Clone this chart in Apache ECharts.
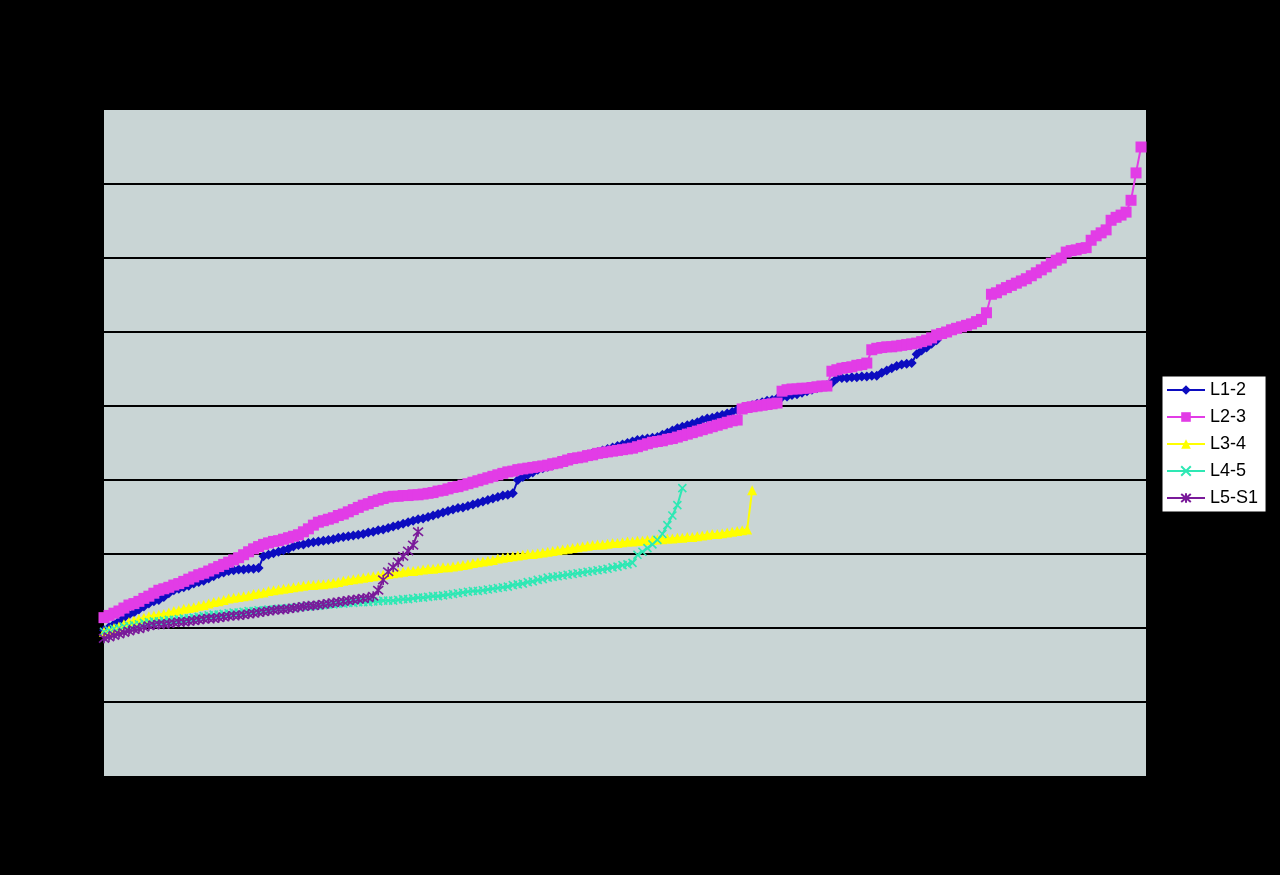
<!DOCTYPE html>
<html>
<head>
<meta charset="utf-8">
<script src="https://cdn.jsdelivr.net/npm/echarts@6/dist/echarts.min.js"></script>
<style>
html,body{margin:0;padding:0;background:#000;}
#chart{width:1280px;height:875px;}
</style>
</head>
<body>
<div id="chart"></div>
<script>
// Sorted values per disc level (rank order)
const seriesNames = ['L1-2', 'L2-3', 'L3-4', 'L4-5', 'L5-S1'];

const L1_2 = [
1.97,2.01,2.05,2.09,2.14,2.18,2.21,2.25,2.29,2.33,
2.36,2.38,2.42,2.47,2.51,2.53,2.55,2.57,2.60,2.62,
2.64,2.67,2.70,2.73,2.75,2.77,2.78,2.79,2.79,2.80,
2.80,2.81,2.97,2.99,3.01,3.03,3.05,3.07,3.10,3.12,
3.13,3.15,3.16,3.17,3.18,3.19,3.20,3.22,3.23,3.24,
3.25,3.26,3.27,3.29,3.30,3.32,3.33,3.35,3.37,3.39,
3.41,3.43,3.45,3.47,3.48,3.50,3.52,3.54,3.56,3.58,
3.60,3.62,3.63,3.65,3.67,3.69,3.71,3.73,3.75,3.77,
3.79,3.80,3.82,4.00,4.04,4.07,4.10,4.14,4.16,4.18,
4.20,4.22,4.24,4.26,4.28,4.30,4.32,4.34,4.36,4.38,
4.40,4.42,4.44,4.46,4.48,4.50,4.52,4.54,4.55,4.56,
4.57,4.58,4.61,4.64,4.67,4.70,4.72,4.74,4.76,4.78,
4.81,4.83,4.84,4.86,4.88,4.90,4.92,4.95,4.97,4.99,
5.01,5.03,5.05,5.07,5.08,5.10,5.12,5.13,5.15,5.16,
5.18,5.20,5.22,5.24,5.26,5.28,5.31,5.37,5.38,5.38,
5.39,5.39,5.40,5.40,5.41,5.41,5.45,5.48,5.51,5.54,
5.56,5.57,5.58,5.70,5.75,5.79,5.84,5.89
];

const L2_3 = [
2.14,2.17,2.20,2.23,2.27,2.31,2.33,2.36,2.40,2.43,
2.47,2.51,2.53,2.55,2.58,2.60,2.63,2.66,2.69,2.72,
2.74,2.77,2.80,2.83,2.86,2.89,2.92,2.95,2.99,3.03,
3.07,3.10,3.13,3.15,3.17,3.18,3.20,3.22,3.24,3.26,
3.30,3.34,3.39,3.43,3.45,3.47,3.49,3.52,3.54,3.57,
3.60,3.63,3.66,3.68,3.71,3.73,3.75,3.77,3.78,3.78,
3.79,3.79,3.80,3.80,3.81,3.82,3.83,3.85,3.86,3.88,
3.90,3.91,3.93,3.95,3.97,3.99,4.01,4.03,4.05,4.07,
4.09,4.11,4.12,4.14,4.15,4.16,4.17,4.18,4.19,4.20,
4.22,4.23,4.25,4.27,4.29,4.30,4.31,4.33,4.34,4.36,
4.37,4.38,4.39,4.40,4.41,4.42,4.43,4.45,4.47,4.49,
4.51,4.52,4.53,4.55,4.56,4.58,4.60,4.62,4.64,4.66,
4.68,4.70,4.72,4.74,4.76,4.78,4.80,4.81,4.96,4.98,
4.99,5.00,5.01,5.02,5.03,5.04,5.20,5.22,5.23,5.23,
5.24,5.24,5.25,5.26,5.27,5.27,5.47,5.49,5.51,5.52,
5.53,5.55,5.56,5.58,5.76,5.78,5.79,5.80,5.80,5.81,
5.82,5.83,5.84,5.85,5.87,5.89,5.92,5.96,5.98,6.00,
6.03,6.05,6.07,6.09,6.11,6.14,6.17,6.26,6.51,6.53,
6.57,6.60,6.63,6.66,6.69,6.72,6.76,6.80,6.84,6.88,
6.93,6.97,7.00,7.08,7.10,7.11,7.13,7.14,7.24,7.30,
7.34,7.38,7.51,7.55,7.58,7.62,7.78,8.15,8.50
];

const L3_4 = [
1.95,1.97,2.00,2.02,2.05,2.08,2.10,2.12,2.14,2.16,
2.17,2.18,2.19,2.21,2.23,2.24,2.26,2.27,2.28,2.30,
2.31,2.33,2.35,2.36,2.38,2.40,2.41,2.42,2.43,2.44,
2.46,2.47,2.48,2.50,2.51,2.52,2.53,2.54,2.55,2.56,
2.57,2.58,2.58,2.59,2.59,2.60,2.61,2.62,2.64,2.65,
2.66,2.67,2.68,2.69,2.70,2.71,2.72,2.73,2.74,2.75,
2.76,2.77,2.77,2.78,2.79,2.80,2.80,2.81,2.82,2.82,
2.83,2.84,2.85,2.86,2.88,2.89,2.90,2.91,2.92,2.94,
2.95,2.96,2.97,2.98,2.99,3.00,3.00,3.01,3.02,3.03,
3.04,3.05,3.06,3.07,3.08,3.09,3.10,3.11,3.12,3.13,
3.13,3.14,3.15,3.15,3.16,3.17,3.17,3.18,3.18,3.19,
3.19,3.20,3.20,3.21,3.21,3.22,3.22,3.23,3.23,3.24,
3.25,3.26,3.27,3.27,3.28,3.29,3.30,3.31,3.32,3.33,
3.86
];

const L4_5 = [
1.95,1.97,1.99,2.00,2.02,2.03,2.04,2.05,2.07,2.08,
2.09,2.09,2.10,2.11,2.11,2.12,2.13,2.13,2.14,2.15,
2.16,2.17,2.18,2.18,2.19,2.20,2.21,2.21,2.22,2.23,
2.23,2.24,2.24,2.25,2.25,2.26,2.26,2.27,2.27,2.28,
2.29,2.29,2.30,2.30,2.31,2.32,2.32,2.33,2.33,2.34,
2.34,2.35,2.35,2.35,2.36,2.36,2.37,2.37,2.37,2.38,
2.39,2.39,2.40,2.41,2.41,2.42,2.43,2.43,2.44,2.45,
2.46,2.47,2.48,2.49,2.50,2.50,2.51,2.52,2.53,2.54,
2.55,2.56,2.58,2.59,2.60,2.62,2.63,2.65,2.66,2.68,
2.69,2.70,2.71,2.72,2.73,2.74,2.75,2.76,2.77,2.78,
2.79,2.80,2.82,2.83,2.85,2.86,2.88,2.99,3.03,3.08,
3.13,3.19,3.27,3.39,3.52,3.66,3.89
];

const L5_S1 = [
1.86,1.88,1.90,1.92,1.94,1.96,1.98,1.99,2.01,2.03,
2.04,2.05,2.05,2.06,2.07,2.08,2.08,2.09,2.10,2.11,
2.12,2.13,2.13,2.14,2.15,2.16,2.17,2.17,2.18,2.19,
2.20,2.21,2.22,2.23,2.24,2.25,2.25,2.26,2.27,2.28,
2.29,2.30,2.30,2.31,2.32,2.33,2.34,2.35,2.36,2.37,
2.38,2.39,2.40,2.41,2.43,2.51,2.65,2.76,2.82,2.89,
2.97,3.04,3.12,3.30
];

// Rank categories along the x axis
const ranks = Array.from({ length: 210 }, (_, i) => String(i + 1));

const colors = ['#0c0cc0', '#e23ce6', '#ffff00', '#2ee8b4', '#7a1a9a'];
const symbols = [
  'diamond',
  'rect',
  'triangle',
  'path://M0,0L10,10M10,0L0,10',
  'path://M0,0L10,10M10,0L0,10M5,-1L5,11'
];
const symbolSizes = [[10, 10], 11, 10, 8, 10];
const dataSets = [L1_2, L2_3, L3_4, L4_5, L5_S1];

const chart = echarts.init(document.getElementById('chart'));
const series = seriesNames.map((name, k) => {
  const isPath = symbols[k].startsWith('path://');
  return {
    name: name,
    type: 'line',
    data: dataSets[k],
    symbol: symbols[k],
    symbolSize: symbolSizes[k],
    showAllSymbol: true,
    color: colors[k],
    lineStyle: { color: colors[k], width: 2 },
    itemStyle: isPath
      ? { color: colors[k], borderColor: colors[k], borderWidth: 1.6 }
      : { color: colors[k], borderWidth: 0 },
    emphasis: { disabled: true },
    animation: false
  };
});

chart.setOption({
  backgroundColor: '#000000',
  animation: false,
  grid: {
    left: 104, right: 134, top: 110, bottom: 99,
    show: true, backgroundColor: '#c9d5d5', borderWidth: 0
  },
  xAxis: {
    type: 'category',
    data: ranks,
    boundaryGap: false,
    axisLine: { show: false },
    axisTick: { show: false },
    axisLabel: { show: false },
    splitLine: { show: false }
  },
  yAxis: {
    type: 'value',
    min: 0, max: 9, interval: 1,
    axisLine: { show: false },
    axisTick: { show: false },
    axisLabel: { show: false },
    splitLine: {
      show: true, showMinLine: false, showMaxLine: false,
      lineStyle: { color: '#000000', width: 2 }
    }
  },
  legend: {
    orient: 'vertical',
    left: 1162, top: 376,
    backgroundColor: '#ffffff',
    borderColor: '#000000', borderWidth: 1,
    padding: [5, 8, 5, 4],
    itemWidth: 38, itemHeight: 12, itemGap: 9,
    textStyle: { fontFamily: 'Liberation Sans, Arial, sans-serif', fontSize: 18, color: '#000' },
    data: seriesNames
  },
  series: series
});
</script>
</body>
</html>
